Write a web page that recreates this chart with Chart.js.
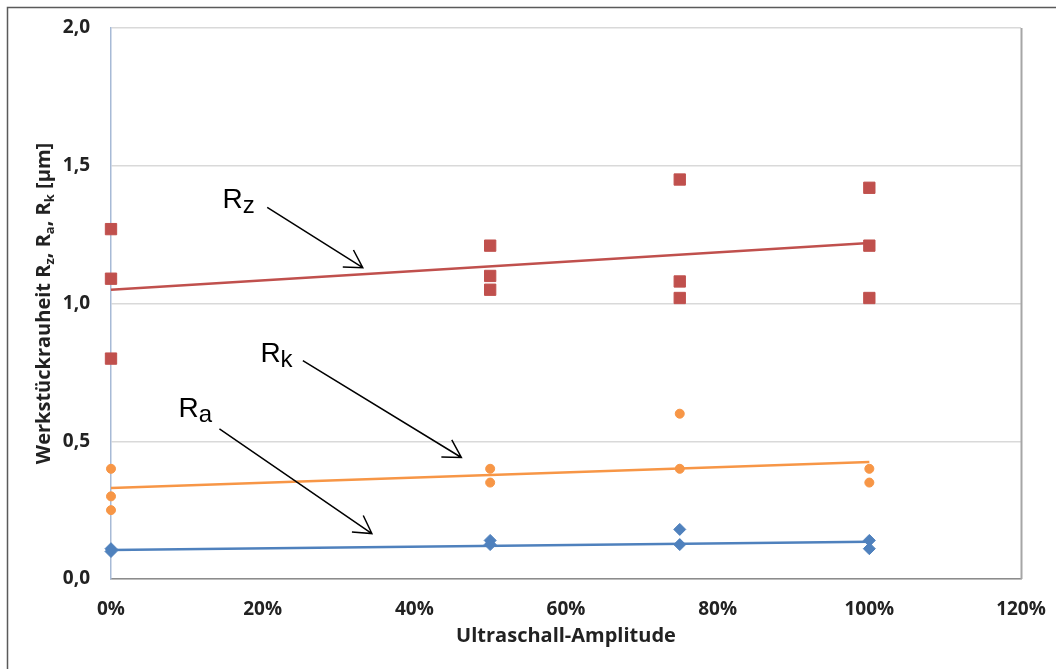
<!DOCTYPE html>
<html>
<head>
<meta charset="utf-8">
<title>Werkstückrauheit</title>
<script src="https://cdn.jsdelivr.net/npm/chart.js@4.4.1/dist/chart.umd.min.js"></script>
<style>
  html, body { margin: 0; padding: 0; background: #fff; }
</style>
</head>
<body>
<canvas id="chart" width="1056" height="669"></canvas>
<script>
// Ultraschall-Amplitude (%) and measured roughness values (µm)
const rzX = [0, 0, 0, 50, 50, 50, 75, 75, 75, 100, 100, 100];
const rzValues = [1.27, 1.09, 0.80, 1.21, 1.10, 1.05, 1.45, 1.08, 1.02, 1.42, 1.21, 1.02];

const rkX = [0, 0, 0, 50, 50, 75, 75, 100, 100];
const rkValues = [0.40, 0.30, 0.25, 0.40, 0.35, 0.60, 0.40, 0.40, 0.35];

const raX = [0, 0, 50, 50, 75, 75, 100, 100];
const raValues = [0.10, 0.11, 0.14, 0.125, 0.18, 0.125, 0.14, 0.11];

// linear trend lines, read at 0% and 100%
const trendX = [0, 100];
const rzTrend = [1.05, 1.22];
const rkTrend = [0.33, 0.425];
const raTrend = [0.105, 0.135];

const xTicks = [0, 20, 40, 60, 80, 100, 120];
const yTicks = [0, 0.5, 1.0, 1.5, 2.0];

const RED = '#C0504D';
const ORANGE = '#F79646';
const BLUE = '#4F81BD';
const TEXT = '#222222';
const FONT = "'Open Sans', sans-serif";

function toPoints(xs, ys) {
    return xs.map((x, i) => ({ x: x, y: ys[i] }));
}

// annotation labels with arrows, in data units (x in %, y in µm)
const notes = [
    { base: 'R', sub: 'z', at: [14.7, 1.348], from: [20.6, 1.349], to: [33.2, 1.130] },
    { base: 'R', sub: 'k', at: [19.7, 0.788], from: [25.3, 0.793], to: [46.2, 0.441] },
    { base: 'R', sub: 'a', at: [8.9, 0.587], from: [14.3, 0.545], to: [34.4, 0.165] }
];

const yTitleParts = [
    ['Werkstückrauheit R', false], ['z', true], [', R', false],
    ['a', true], [', R', false], ['k', true], [' [µm]', false]
];

function drawArrow(ctx, x1, y1, x2, y2) {
    const ang = Math.atan2(y2 - y1, x2 - x1);
    const len = 20, spread = Math.PI / 6;
    ctx.beginPath();
    ctx.moveTo(x1, y1);
    ctx.lineTo(x2, y2);
    ctx.moveTo(x2 - len * Math.cos(ang - spread), y2 - len * Math.sin(ang - spread));
    ctx.lineTo(x2, y2);
    ctx.lineTo(x2 - len * Math.cos(ang + spread), y2 - len * Math.sin(ang + spread));
    ctx.stroke();
}

const decorations = {
    id: 'decorations',
    beforeDraw(chart) {
        const ctx = chart.ctx;
        ctx.save();
        ctx.fillStyle = '#ffffff';
        ctx.fillRect(0, 0, chart.width, chart.height);
        // outer frame, only left and top edges are in view
        ctx.strokeStyle = '#5a5a5a';
        ctx.lineWidth = 1.5;
        ctx.beginPath();
        ctx.moveTo(7.5, chart.height);
        ctx.lineTo(7.5, 7.5);
        ctx.lineTo(chart.width, 7.5);
        ctx.stroke();
        ctx.restore();
    },
    afterDraw(chart) {
        const ctx = chart.ctx;
        const area = chart.chartArea;
        const xs = chart.scales.x, ys = chart.scales.y;
        ctx.save();

        // right edge of the plot area
        ctx.strokeStyle = '#a6a6a6';
        ctx.lineWidth = 2;
        ctx.beginPath();
        ctx.moveTo(area.right + 0.5, area.top);
        ctx.lineTo(area.right + 0.5, area.bottom);
        ctx.stroke();

        // y axis title with subscripts
        const big = "bold 20px " + FONT, small = "bold 13px " + FONT;
        let total = 0;
        yTitleParts.forEach(p => {
            ctx.font = p[1] ? small : big;
            total += ctx.measureText(p[0]).width;
        });
        ctx.translate(50, (area.top + area.bottom) / 2);
        ctx.rotate(-Math.PI / 2);
        ctx.fillStyle = TEXT;
        ctx.textBaseline = 'alphabetic';
        let pos = -total / 2;
        yTitleParts.forEach(p => {
            ctx.font = p[1] ? small : big;
            ctx.fillText(p[0], pos, p[1] ? 4 : 0);
            pos += ctx.measureText(p[0]).width;
        });
        ctx.setTransform(1, 0, 0, 1, 0, 0);

        // R labels and arrows
        ctx.fillStyle = '#000';
        ctx.strokeStyle = '#000';
        ctx.lineWidth = 1.5;
        notes.forEach(n => {
            const px = xs.getPixelForValue(n.at[0]);
            const py = ys.getPixelForValue(n.at[1]);
            ctx.font = "28px 'Liberation Sans', Arial, sans-serif";
            ctx.fillText(n.base, px, py);
            const w = ctx.measureText(n.base).width;
            ctx.font = "24px 'Liberation Sans', Arial, sans-serif";
            ctx.fillText(n.sub, px + w, py + 5);
            drawArrow(ctx,
                xs.getPixelForValue(n.from[0]), ys.getPixelForValue(n.from[1]),
                xs.getPixelForValue(n.to[0]), ys.getPixelForValue(n.to[1]));
        });
        ctx.restore();
    }
};

new Chart(document.getElementById('chart'), {
    type: 'scatter',
    data: {
        datasets: [
            {
                label: 'Rz',
                data: toPoints(rzX, rzValues),
                pointStyle: 'rect',
                pointRadius: 8,
                borderWidth: 1,
                backgroundColor: RED,
                borderColor: RED
            },
            {
                label: 'Rk',
                data: toPoints(rkX, rkValues),
                pointStyle: 'circle',
                pointRadius: 4.5,
                borderWidth: 1,
                backgroundColor: ORANGE,
                borderColor: ORANGE
            },
            {
                label: 'Ra',
                data: toPoints(raX, raValues),
                pointStyle: 'rectRot',
                pointRadius: 6,
                borderWidth: 1,
                backgroundColor: BLUE,
                borderColor: BLUE
            },
            {
                label: 'Trend Rz',
                data: toPoints(trendX, rzTrend),
                showLine: true,
                pointRadius: 0,
                borderWidth: 2.5,
                borderColor: RED
            },
            {
                label: 'Trend Rk',
                data: toPoints(trendX, rkTrend),
                showLine: true,
                pointRadius: 0,
                borderWidth: 2.5,
                borderColor: ORANGE
            },
            {
                label: 'Trend Ra',
                data: toPoints(trendX, raTrend),
                showLine: true,
                pointRadius: 0,
                borderWidth: 2.5,
                borderColor: BLUE
            }
        ]
    },
    options: {
        responsive: false,
        animation: false,
        clip: false,
        layout: { padding: { top: 28, right: 35, left: 0, bottom: 0 } },
        plugins: {
            legend: { display: false },
            tooltip: { enabled: false }
        },
        scales: {
            x: {
                type: 'linear',
                min: 0,
                max: 120,
                afterBuildTicks: s => { s.ticks = xTicks.map(v => ({ value: v })); },
                afterFit: s => {
                    s.height = 90;
                    s.paddingLeft = 0;
                    s.paddingRight = 0;
                },
                grid: { display: false, drawTicks: false },
                border: { display: true, color: '#8c8c8c', width: 1.5 },
                ticks: {
                    padding: 19,
                    color: TEXT,
                    font: { family: FONT, size: 19, weight: 'bold' },
                    callback: v => v + '%'
                },
                title: {
                    display: true,
                    text: 'Ultraschall-Amplitude',
                    color: TEXT,
                    font: { family: FONT, size: 20, weight: 'bold' },
                    padding: { top: 0, bottom: 21 }
                }
            },
            y: {
                min: 0,
                max: 2,
                afterBuildTicks: s => { s.ticks = yTicks.map(v => ({ value: v })); },
                afterFit: s => {
                    s.width = 111;
                    s.paddingTop = 0;
                    s.paddingBottom = 0;
                },
                grid: { color: '#d9d9d9', lineWidth: 1.5, drawTicks: false },
                border: { display: true, color: '#a7bad6', width: 1.5 },
                ticks: {
                    padding: 21,
                    color: TEXT,
                    font: { family: FONT, size: 19, weight: 'bold' },
                    callback: v => v.toFixed(1).replace('.', ',')
                }
            }
        }
    },
    plugins: [decorations]
});
</script>
</body>
</html>
